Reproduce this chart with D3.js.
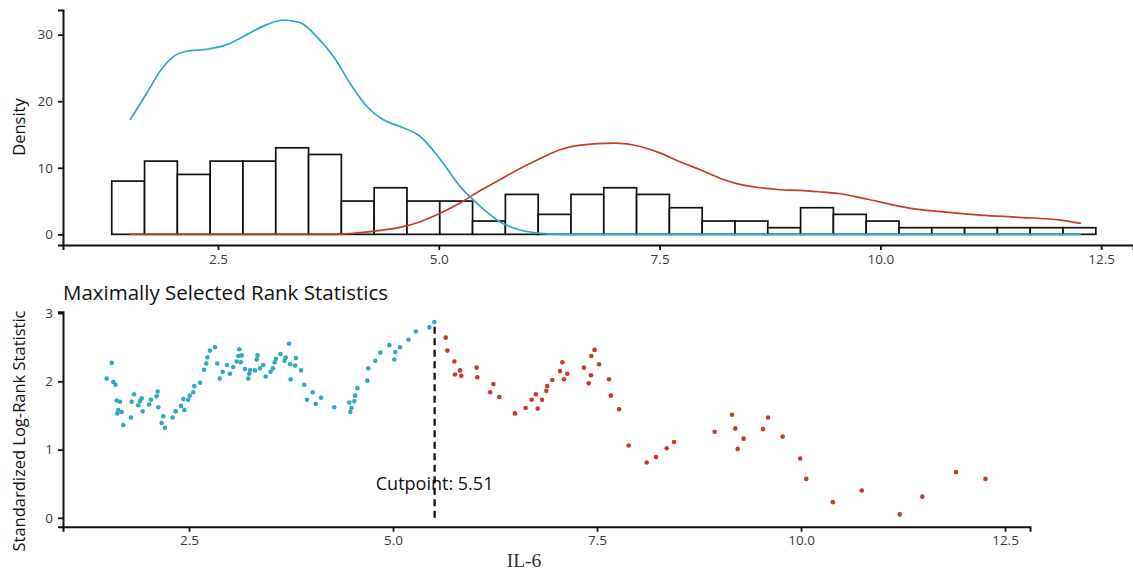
<!DOCTYPE html>
<html>
<head>
<meta charset="utf-8">
<script src="https://cdn.jsdelivr.net/npm/d3@7"></script>
<style>
  html, body { margin: 0; padding: 0; background: #fff; }
  svg { display: block; }
</style>
</head>
<body>
<svg id="chart" width="1133" height="572"></svg>
<script>
// ---------- DATA ----------
// Histogram (top panel)
const histStart = 1.297;
const histBinWidth = 0.3714;
const histCounts = [8, 11, 9, 11, 11, 13, 12, 5, 7, 5, 5, 2, 6, 3, 6, 7, 6, 4, 2, 2, 1, 4, 3, 2, 1, 1, 1, 1, 1, 1];

// Density curves (top panel), x and density values
const lowDensX = [1.504, 1.693, 1.844, 1.995, 2.146, 2.372, 2.599, 2.826, 3.052, 3.24, 3.43, 3.618, 3.807, 3.995, 4.185, 4.372, 4.56, 4.79, 5.02, 5.24, 5.47, 5.69, 5.92, 6.15, 6.37, 7.00, 12.27];
const lowDensY = [17.2, 21.2, 24.5, 26.7, 27.5, 27.8, 28.5, 30.0, 31.5, 32.2, 31.8, 29.7, 26.7, 22.7, 19.2, 17.2, 16.2, 14.7, 11.2, 7.2, 4.2, 1.9, 0.65, 0.15, 0.0, 0.0, 0.0];
const highDensX = [1.50, 3.00, 3.80, 4.00, 4.17, 4.34, 4.56, 4.79, 5.02, 5.24, 5.47, 5.69, 5.92, 6.15, 6.37, 6.60, 6.98, 7.28, 7.51, 7.73, 7.96, 8.19, 8.41, 8.64, 8.86, 9.09, 9.30, 9.54, 9.70, 9.88, 10.22, 10.45, 10.68, 11.13, 11.58, 12.04, 12.27];
const highDensY = [0.0, 0.0, 0.0, 0.12, 0.32, 0.6, 1.05, 1.9, 3.2, 4.7, 6.6, 8.2, 9.9, 11.4, 12.7, 13.4, 13.7, 13.2, 12.2, 10.9, 9.7, 8.4, 7.5, 7.0, 6.7, 6.6, 6.4, 6.1, 5.7, 5.2, 4.2, 3.7, 3.4, 2.9, 2.55, 2.15, 1.65];

// Maximally selected rank statistics (bottom panel)
const statX = [1.491, 1.553, 1.572, 1.600, 1.614, 1.621, 1.634, 1.654, 1.675, 1.695, 1.789, 1.797, 1.826, 1.879, 1.899, 1.920, 1.932, 2.010, 2.034, 2.104, 2.116, 2.124, 2.165, 2.185, 2.206, 2.300, 2.337, 2.402, 2.430, 2.443, 2.490, 2.510, 2.553, 2.565, 2.635, 2.684, 2.712, 2.725, 2.757, 2.818, 2.846, 2.876, 2.913, 2.966, 3.002, 3.043, 3.084, 3.104, 3.116, 3.133, 3.146, 3.186, 3.227, 3.239, 3.248, 3.309, 3.330, 3.340, 3.370, 3.410, 3.440, 3.500, 3.530, 3.550, 3.566, 3.620, 3.670, 3.685, 3.726, 3.740, 3.746, 3.800, 3.810, 3.873, 3.913, 3.946, 4.016, 4.053, 4.118, 4.280, 4.464, 4.477, 4.490, 4.526, 4.535, 4.563, 4.685, 4.697, 4.783, 4.844, 4.955, 5.016, 5.028, 5.086, 5.190, 5.280, 5.445, 5.507,
  5.646, 5.666, 5.752, 5.760, 5.821, 5.837, 6.025, 6.033, 6.190, 6.230, 6.303, 6.495, 6.626, 6.700, 6.750, 6.773, 6.826, 6.879, 6.891, 6.952, 7.047, 7.075, 7.096, 7.136, 7.340, 7.398, 7.426, 7.430, 7.470, 7.525, 7.647, 7.670, 7.770, 7.888, 8.109, 8.223, 8.354, 8.444, 8.942, 9.154, 9.195, 9.224, 9.297, 9.534, 9.596, 9.775, 9.990, 10.064, 10.390, 10.744, 11.210, 11.486, 11.900, 12.260];
const statY = [2.04, 2.27, 1.99, 1.95, 1.72, 1.53, 1.58, 1.70, 1.55, 1.36, 1.47, 1.70, 1.81, 1.65, 1.71, 1.75, 1.56, 1.66, 1.73, 1.78, 1.85, 1.62, 1.39, 1.49, 1.32, 1.47, 1.56, 1.64, 1.74, 1.58, 1.73, 1.79, 1.84, 1.93, 1.98, 2.17, 2.26, 2.35, 2.45, 2.50, 2.26, 2.04, 2.14, 2.24, 2.11, 2.21, 2.29, 2.37, 2.47, 2.28, 2.38, 2.18, 2.04, 2.11, 2.16, 2.16, 2.32, 2.38, 2.19, 2.24, 2.07, 2.14, 2.19, 2.28, 2.33, 2.40, 2.30, 2.35, 2.55, 2.25, 2.03, 2.23, 2.34, 2.16, 1.95, 1.73, 1.84, 1.67, 1.76, 1.62, 1.69, 1.55, 1.61, 1.71, 1.79, 1.90, 2.01, 2.19, 2.30, 2.42, 2.53, 2.32, 2.43, 2.50, 2.61, 2.73, 2.79, 2.87,
  2.64, 2.45, 2.29, 2.10, 2.16, 2.08, 2.20, 2.06, 1.84, 1.96, 1.77, 1.53, 1.61, 1.73, 1.81, 1.60, 1.73, 1.86, 1.93, 2.02, 2.15, 2.28, 2.03, 2.11, 2.20, 1.97, 2.09, 2.37, 2.46, 2.25, 2.03, 1.79, 1.59, 1.06, 0.81, 0.89, 1.02, 1.11, 1.26, 1.51, 1.31, 1.01, 1.16, 1.30, 1.47, 1.19, 0.87, 0.57, 0.23, 0.40, 0.05, 0.31, 0.67, 0.57];
const cutpoint = 5.51;
const cutpointLabel = "Cutpoint: 5.51";

// Tick labels
const topXTicks = [2.5, 5.0, 7.5, 10.0, 12.5];
const topYTicks = [0, 10, 20, 30];
const botXTicks = [2.5, 5.0, 7.5, 10.0, 12.5];
const botYTicks = [0, 1, 2, 3];

const topYLabel = "Density";
const botTitle = "Maximally Selected Rank Statistics";
const botYLabel = "Standardized Log-Rank Statistic";
const botXLabel = "IL-6";

// ---------- STYLE ----------
const TEAL = "#2fa8c1";
const RED = "#c63b27";
const TICK_COLOR = "#3a3a3a";
const SANS = "'Open Sans', 'Noto Sans', sans-serif";
const SERIF = "'Liberation Serif', 'DejaVu Serif', serif";

const svg = d3.select("#chart");

// ---------- TOP PANEL ----------
const xT = d3.scaleLinear().domain([0.745, 12.86]).range([63, 1133]);
const yT = d3.scaleLinear().domain([-1.6, 33.7]).range([245, 10]);

const gTop = svg.append("g");

const bins = histCounts.map((c, i) => ({x0: histStart + i * histBinWidth, x1: histStart + (i + 1) * histBinWidth, c}));
gTop.append("g").selectAll("rect").data(bins).join("rect")
  .attr("x", d => xT(d.x0))
  .attr("y", d => yT(d.c))
  .attr("width", d => xT(d.x1) - xT(d.x0))
  .attr("height", d => yT(0) - yT(d.c))
  .attr("fill", "#fff")
  .attr("stroke", "#111")
  .attr("stroke-width", 1.7);

const lineT = d3.line().x(d => xT(d[0])).y(d => yT(d[1])).curve(d3.curveMonotoneX);
gTop.append("path")
  .datum(highDensX.map((x, i) => [x, highDensY[i]]))
  .attr("d", lineT).attr("fill", "none").attr("stroke", RED).attr("stroke-width", 1.7);
gTop.append("path")
  .datum(lowDensX.map((x, i) => [x, lowDensY[i]]))
  .attr("d", lineT).attr("fill", "none").attr("stroke", TEAL).attr("stroke-width", 1.7);

const axTX = gTop.append("g").attr("transform", "translate(0,245)")
  .call(d3.axisBottom(xT).tickValues(topXTicks).tickFormat(d3.format(".1f")).tickSizeOuter(0).tickSize(5).tickPadding(4));
const axTY = gTop.append("g").attr("transform", "translate(63,0)")
  .call(d3.axisLeft(yT).tickValues(topYTicks).tickFormat(d3.format("d")).tickSizeOuter(0).tickSize(5).tickPadding(5));

gTop.append("text")
  .attr("transform", "translate(25,127) rotate(-90)")
  .attr("text-anchor", "middle")
  .style("font-family", SANS)
  .style("font-size", "16.5px")
  .attr("fill", "#111")
  .text(topYLabel);

// ---------- BOTTOM PANEL ----------
const xB = d3.scaleLinear().domain([0.956, 12.806]).range([63, 1030]);
const yB = d3.scaleLinear().domain([-0.13, 3.02]).range([526.7, 311.7]);

const gBot = svg.append("g");

gBot.append("text")
  .attr("x", 63).attr("y", 300)
  .style("font-family", SANS)
  .style("font-size", "20.5px")
  .attr("fill", "#111")
  .text(botTitle);

const pts = statX.map((x, i) => ({x, y: statY[i]}));
const maxPt = pts.reduce((a, b) => (b.y > a.y ? b : a));

gBot.append("line")
  .attr("x1", xB(cutpoint)).attr("x2", xB(cutpoint))
  .attr("y1", yB(0)).attr("y2", yB(maxPt.y))
  .attr("stroke", "#111").attr("stroke-width", 2.3)
  .attr("stroke-dasharray", "7,4.5");

gBot.append("g").selectAll("circle").data(pts).join("circle")
  .attr("cx", d => xB(d.x))
  .attr("cy", d => yB(d.y))
  .attr("r", 2.3)
  .attr("fill", d => d.x <= cutpoint ? TEAL : RED);

gBot.append("text")
  .attr("x", xB(cutpoint)).attr("y", yB(0.41))
  .attr("text-anchor", "middle")
  .style("font-family", SANS)
  .style("font-size", "18px")
  .attr("fill", "#111")
  .text(cutpointLabel);

const axBX = gBot.append("g").attr("transform", "translate(0,526.7)")
  .call(d3.axisBottom(xB).tickValues(botXTicks).tickFormat(d3.format(".1f")).tickSizeOuter(0).tickSize(5).tickPadding(4));
const axBY = gBot.append("g").attr("transform", "translate(63,0)")
  .call(d3.axisLeft(yB).tickValues(botYTicks).tickFormat(d3.format("d")).tickSizeOuter(0).tickSize(5).tickPadding(5));

gBot.append("text")
  .attr("transform", "translate(25,431) rotate(-90)")
  .attr("text-anchor", "middle")
  .style("font-family", SANS)
  .style("font-size", "16.5px")
  .attr("fill", "#111")
  .text(botYLabel);

gBot.append("text")
  .attr("x", 524).attr("y", 566.5)
  .attr("text-anchor", "middle")
  .style("font-family", SERIF)
  .style("font-size", "19.5px")
  .attr("fill", "#333")
  .text(botXLabel);

[axTX, axTY, axBX, axBY].forEach(ax => {
  ax.select(".domain").attr("stroke", "#111").attr("stroke-width", 2);
  ax.selectAll(".tick line").attr("stroke", "#111").attr("stroke-width", 1.8);
  ax.selectAll(".tick text")
    .style("font-family", SANS).style("font-size", "13.5px")
    .attr("fill", TICK_COLOR);
});
</script>
</body>
</html>
